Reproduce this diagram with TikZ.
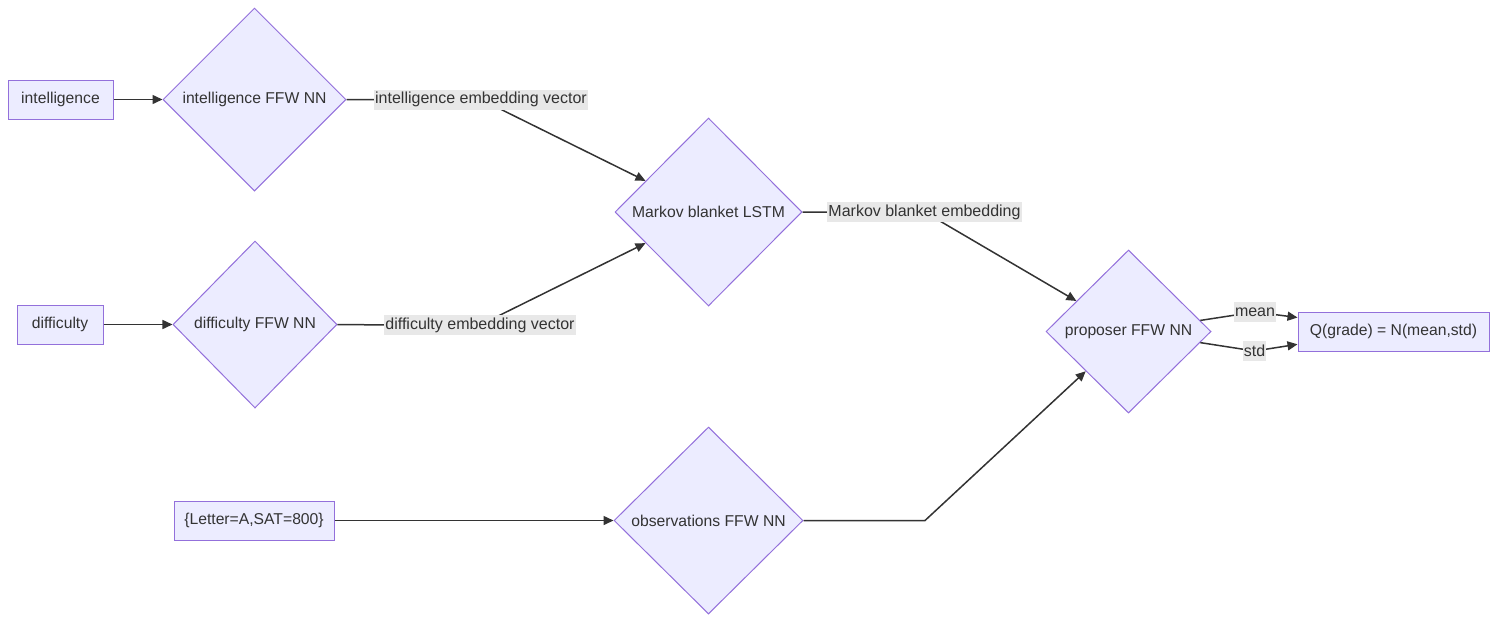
\documentclass[tikz,border=0pt]{standalone}
\usepackage{fontspec}
\setmainfont{Liberation Sans}
\usetikzlibrary{shapes.geometric,arrows.meta,calc}
\definecolor{nfill}{HTML}{ECECFF}
\definecolor{nstroke}{HTML}{9370DB}
\definecolor{ecol}{HTML}{333333}
\definecolor{lbg}{HTML}{E8E8E8}
\begin{document}
\begin{tikzpicture}[x=1pt,y=-1pt,
  font=\fontsize{15.7}{18}\selectfont,
  box/.style={draw=nstroke, fill=nfill, line width=1pt, rectangle, minimum height=39pt, inner sep=0pt, text=ecol},
  dia/.style={draw=nstroke, fill=nfill, line width=1pt, diamond, inner sep=0pt, text=ecol},
  elabel/.style={fill=lbg, inner xsep=1pt, inner ysep=0pt, minimum height=20pt, text=ecol, font=\fontsize{16}{19}\selectfont},
  conn/.style={draw=ecol, line width=1.5pt},
  arr/.style={conn, -{Triangle[length=10pt,width=9pt]}}
]
\useasboundingbox (0,0) rectangle (1496,622);
% nodes
\node[box, minimum width=105pt] (intel) at (60.5,99.5) {intelligence};
\node[dia, minimum width=183pt, minimum height=183pt] (iffw) at (254.5,99.5) {intelligence FFW NN};
\node[box, minimum width=86pt] (diff) at (60,324.5) {difficulty};
\node[dia, minimum width=164pt, minimum height=167pt] (dffw) at (255,324.5) {difficulty FFW NN};
\node[box, minimum width=160pt] (obs) at (254,520.5) {\{Letter=A,SAT=800\}};
\node[dia, minimum width=189pt, minimum height=187pt] (offw) at (708.5,520.5) {observations FFW NN};
\node[dia, minimum width=187pt, minimum height=188pt] (mb) at (708.5,212) {Markov blanket LSTM};
\node[dia, minimum width=165pt, minimum height=163pt] (prop) at (1128.5,331.5) {proposer FFW NN};
\node[box, minimum width=191pt] (q) at (1393.5,331.5) {Q(grade) = N(mean,std)};
% label positions
\coordinate (l1) at (481,99.5);
\coordinate (l2) at (480,325);
\coordinate (l3) at (924.5,212);
\coordinate (bend) at (925,520.5);
\coordinate (l4) at (1255,312);
\coordinate (l5) at (1254.5,351);
\coordinate (qm) at ($(q.north west)!0.15!(q.south west)$);
\coordinate (qs) at ($(q.north west)!0.82!(q.south west)$);
% connectors
\draw[arr] (intel) -- (iffw);
\draw[arr] (diff) -- (dffw);
\draw[arr] (obs) -- (offw);
\draw[arr] (iffw) -- (l1) -- (mb);
\draw[arr] (dffw) -- (l2) -- (mb);
\draw[arr] (mb) -- (l3) -- (prop);
\draw[arr] (offw) -- (bend) -- (prop);
\draw[arr] (prop) -- (l4) -- (qm);
\draw[arr] (prop) -- (l5) -- (qs);
% edge labels
\node[elabel] (t1) at (l1) {intelligence embedding vector};
\node[elabel] (t2) at (l2) {difficulty embedding vector};
\node[elabel] (t3) at (l3) {Markov blanket embedding};
\node[elabel] (t4) at (l4) {mean};
\node[elabel] (t5) at (l5) {std};
\end{tikzpicture}
\end{document}
